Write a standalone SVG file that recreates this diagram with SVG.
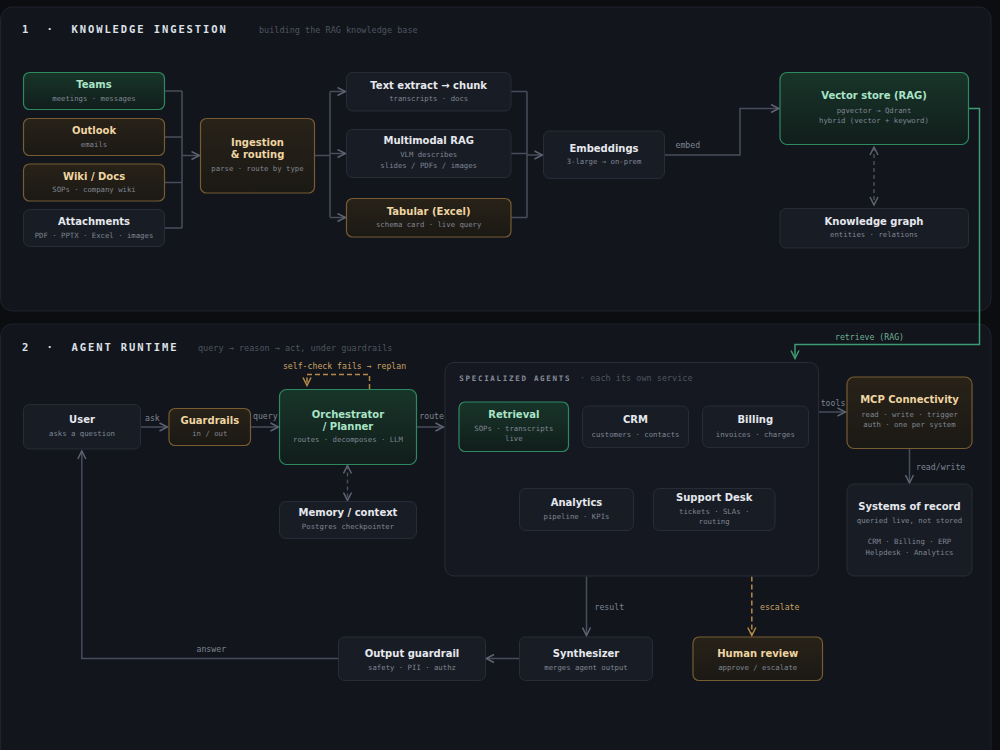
<svg xmlns="http://www.w3.org/2000/svg" width="1000" height="750" viewBox="0 0 1000 750">
<style>
.panel{fill:#12151c;stroke:#1f232c;stroke-width:1}
.nn{fill:#181c25;stroke:#272c37;stroke-width:1}
.ng{fill:url(#gG);stroke:#2d8a60;stroke-width:1.2}
.na{fill:url(#gA);stroke:#765c30;stroke-width:1.2}
.t{font-family:"DejaVu Sans","Liberation Sans",sans-serif;font-weight:bold;font-size:10px;text-anchor:middle}
.tn{fill:#e6e8ed}.tg{fill:#a9e4c7}.ta{fill:#efd5a2}
.s{font-family:"DejaVu Sans Mono","Liberation Mono",monospace;font-size:7.3px;fill:#7f8692;text-anchor:middle}
.h{font-family:"DejaVu Sans Mono","Liberation Mono",monospace;font-weight:bold;font-size:10.5px;fill:#dde1e8;letter-spacing:1.9px}
.hs{font-family:"DejaVu Sans Mono","Liberation Mono",monospace;font-size:8.5px;fill:#4e5460}
.lbl{font-family:"DejaVu Sans Mono","Liberation Mono",monospace;font-size:8.2px;fill:#7d8491}
.c{fill:none;stroke:#474d5b;stroke-width:1.5}
.cg{fill:none;stroke:#3f9a74;stroke-width:1.5}
.ca{fill:none;stroke:#b48a45;stroke-width:1.5;stroke-dasharray:5 3}
.cd{fill:none;stroke:#474d5b;stroke-width:1.5;stroke-dasharray:4 3}
</style>
<defs>
<linearGradient id="gG" x1="0" y1="0" x2="0" y2="1"><stop offset="0" stop-color="#183529"/><stop offset="1" stop-color="#111d1b"/></linearGradient>
<linearGradient id="gA" x1="0" y1="0" x2="0" y2="1"><stop offset="0" stop-color="#282218"/><stop offset="1" stop-color="#1b1915"/></linearGradient>
<marker id="ar" markerUnits="userSpaceOnUse" viewBox="0 0 10 10" refX="9" refY="5" markerWidth="10" markerHeight="10" orient="auto-start-reverse"><path d="M1,1 L9,5 L1,9" fill="none" stroke="#5d6473" stroke-width="1.5"/></marker>
<marker id="arg" markerUnits="userSpaceOnUse" viewBox="0 0 10 10" refX="9" refY="5" markerWidth="10" markerHeight="10" orient="auto"><path d="M1,1 L9,5 L1,9" fill="none" stroke="#3f9a74" stroke-width="1.5"/></marker>
<marker id="ara" markerUnits="userSpaceOnUse" viewBox="0 0 10 10" refX="9" refY="5" markerWidth="10" markerHeight="10" orient="auto"><path d="M1,1 L9,5 L1,9" fill="none" stroke="#b48a45" stroke-width="1.5"/></marker>
</defs>
<rect x="0" y="0" width="1000" height="750" fill="#0b0d11"/>
<rect class="panel" x="0.5" y="7" width="990.5" height="304" rx="12"/>
<rect class="panel" x="0.5" y="324" width="990.5" height="440" rx="12"/>

<g id="headers">
<text class="h" x="22" y="32.5">1</text><text class="h" x="46.6" y="32.5">·</text><text class="h" x="71.5" y="32.5">KNOWLEDGE INGESTION</text>
<text class="hs" x="259" y="32.5">building the RAG knowledge base</text>
<text class="h" x="22" y="350.5">2</text><text class="h" x="46.6" y="350.5">·</text><text class="h" x="71.5" y="350.5">AGENT RUNTIME</text>
<text class="hs" x="198" y="350.5">query → reason → act, under guardrails</text>
</g>

<g id="connectors">
<path class="c" d="M164,91 H182 M164,137 H182 M164,182.5 H182 M164,228 H182 M182,91 V228"/>
<path class="c" d="M182,155.5 H199.5" marker-end="url(#ar)"/>
<path class="c" d="M314,155.5 H330 M330,91.5 V217.5"/>
<path class="c" d="M330,91.5 H345.5" marker-end="url(#ar)"/>
<path class="c" d="M330,153.5 H345.5" marker-end="url(#ar)"/>
<path class="c" d="M330,217.5 H345.5" marker-end="url(#ar)"/>
<path class="c" d="M511,91.5 H527 M511,153.5 H527 M511,217.5 H527 M527,91.5 V217.5"/>
<path class="c" d="M527,155 H542.5" marker-end="url(#ar)"/>
<path class="c" d="M664,155 H740 V108.5 H779" marker-end="url(#ar)"/>
<text class="lbl" x="675.5" y="147.5">embed</text>
<path class="cd" d="M874,147 V205" marker-start="url(#ar)" marker-end="url(#ar)"/>
<path class="cg" d="M968,108.5 H979.5 V344.5 H795 V358.5" marker-end="url(#arg)"/>
<text class="lbl" x="835" y="339.5" style="fill:#6fae93">retrieve (RAG)</text>

<path class="c" d="M140,427 H167.5" marker-end="url(#ar)"/>
<text class="lbl" x="145" y="420.5">ask</text>
<path class="c" d="M251,427 H278.5" marker-end="url(#ar)"/>
<text class="lbl" x="253" y="419">query</text>
<path class="ca" d="M369.5,389 V374.5 H307 V385.5" marker-end="url(#ara)"/>
<text class="lbl" x="344.5" y="369" style="fill:#c9a263;text-anchor:middle">self-check fails → replan</text>
<path class="c" d="M417,427 H443.5" marker-end="url(#ar)"/>
<text class="lbl" x="419.3" y="419">route</text>
<path class="cd" d="M347.5,465.5 V500.5" marker-start="url(#ar)" marker-end="url(#ar)"/>
<path class="c" d="M818.5,412 H845.5" marker-end="url(#ar)"/>
<text class="lbl" x="820.7" y="405.5">tools</text>
<path class="c" d="M909.5,448.5 V483" marker-end="url(#ar)"/>
<text class="lbl" x="916" y="469.5">read/write</text>
<path class="c" d="M586.5,576.5 V635.5" marker-end="url(#ar)"/>
<text class="lbl" x="594.5" y="609.5">result</text>
<path class="ca" d="M751.8,576.5 V635.5" marker-end="url(#ara)"/>
<text class="lbl" x="760" y="609.5" style="fill:#c9a263">escalate</text>
<path class="c" d="M519,658.5 H486" marker-end="url(#ar)"/>
<path class="c" d="M338,658.5 H81.8 V451" marker-end="url(#ar)"/>
<text class="lbl" x="196.5" y="652">answer</text>
</g>

<g id="n-teams"><rect class="ng" x="23.5" y="72.5" width="141" height="37" rx="6"/><text class="t tg" x="94" y="88.3">Teams</text><text class="s" x="94" y="100.8">meetings · messages</text></g>
<g id="n-outlook"><rect class="na" x="23.5" y="118.5" width="141" height="37" rx="6"/><text class="t ta" x="94" y="134">Outlook</text><text class="s" x="94" y="146.5">emails</text></g>
<g id="n-wiki"><rect class="na" x="23.5" y="164" width="141" height="37" rx="6"/><text class="t ta" x="94" y="179.7">Wiki / Docs</text><text class="s" x="94" y="192.2">SOPs · company wiki</text></g>
<g id="n-attachments"><rect class="nn" x="23.5" y="209.5" width="141" height="37" rx="6"/><text class="t tn" x="94" y="225.3">Attachments</text><text class="s" x="94" y="237.6">PDF · PPTX · Excel · images</text></g>
<g id="n-ingestion"><rect class="na" x="200.5" y="118.5" width="114" height="74.5" rx="6"/><text class="t ta" x="257.5" y="146.3">Ingestion</text><text class="t ta" x="257.5" y="158.3">&amp; routing</text><text class="s" x="257.5" y="171">parse · route by type</text></g>
<g id="n-text"><rect class="nn" x="346.5" y="72.5" width="164.5" height="38.5" rx="6"/><text class="t tn" x="428.7" y="88.7">Text extract → chunk</text><text class="s" x="428.7" y="101.3">transcripts · docs</text></g>
<g id="n-multimodal"><rect class="nn" x="346.5" y="129.5" width="164.5" height="48" rx="6"/><text class="t tn" x="428.7" y="144.3">Multimodal RAG</text><text class="s" x="428.7" y="157.3">VLM describes</text><text class="s" x="428.7" y="168">slides / PDFs / images</text></g>
<g id="n-tabular"><rect class="na" x="346.5" y="198.5" width="164.5" height="38.5" rx="6"/><text class="t ta" x="428.7" y="214.7">Tabular (Excel)</text><text class="s" x="428.7" y="227.3">schema card · live query</text></g>
<g id="n-embeddings"><rect class="nn" x="543.5" y="131" width="121" height="47.5" rx="6"/><text class="t tn" x="604" y="151.7">Embeddings</text><text class="s" x="604" y="164.3">3-large → on-prem</text></g>
<g id="n-vector"><rect class="ng" x="780" y="72.5" width="188.5" height="72" rx="7"/><text class="t tg" x="874" y="99.3">Vector store (RAG)</text><text class="s" x="874" y="112.7">pgvector → Qdrant</text><text class="s" x="874" y="123.3">hybrid (vector + keyword)</text></g>
<g id="n-kg"><rect class="nn" x="780" y="208.5" width="188.5" height="39.5" rx="6"/><text class="t tn" x="874" y="224.7">Knowledge graph</text><text class="s" x="874" y="237.3">entities · relations</text></g>

<g id="n-user"><rect class="nn" x="23.5" y="404.5" width="117" height="44.5" rx="6"/><text class="t tn" x="82" y="423.3">User</text><text class="s" x="82" y="436.3">asks a question</text></g>
<g id="n-guardrails"><rect class="na" x="169" y="408.5" width="81.5" height="37" rx="6"/><text class="t ta" x="209.8" y="423.7">Guardrails</text><text class="s" x="209.8" y="436.3">in / out</text></g>
<g id="n-orchestrator"><rect class="ng" x="279.5" y="389.5" width="137" height="75" rx="7"/><text class="t tg" x="348" y="417.7">Orchestrator</text><text class="t tg" x="348" y="429.7">/ Planner</text><text class="s" x="348" y="442">routes · decomposes · LLM</text></g>
<g id="n-memory"><rect class="nn" x="279.5" y="501.5" width="137" height="37" rx="6"/><text class="t tn" x="348" y="516.3">Memory / context</text><text class="s" x="348" y="529.3">Postgres checkpointer</text></g>
<g id="g-agents">
<rect x="445" y="362.5" width="373.5" height="213.5" rx="9" fill="#151821" stroke="#272c37" stroke-width="1"/>
<text x="459.3" y="381" style="font-family:'DejaVu Sans Mono','Liberation Mono',monospace;font-weight:bold;font-size:7.5px;fill:#868d99;letter-spacing:1.7px">SPECIALIZED AGENTS</text>
<text class="hs" x="580" y="381">· each its own service</text>
</g>
<g id="n-retrieval"><rect class="ng" x="459" y="402" width="109.5" height="49.5" rx="6"/><text class="t tg" x="513.8" y="417.7">Retrieval</text><text class="s" x="513.8" y="431">SOPs · transcripts</text><text class="s" x="513.8" y="441.3">live</text></g>
<g id="n-crm"><rect class="nn" x="582.5" y="406" width="106" height="41.5" rx="6"/><text class="t tn" x="635.5" y="423.3">CRM</text><text class="s" x="635.5" y="436.7">customers · contacts</text></g>
<g id="n-billing"><rect class="nn" x="702.5" y="406" width="106" height="41.5" rx="6"/><text class="t tn" x="755.3" y="423.3">Billing</text><text class="s" x="755.3" y="436.7">invoices · charges</text></g>
<g id="n-analytics"><rect class="nn" x="519.5" y="488.5" width="114" height="42" rx="6"/><text class="t tn" x="576.5" y="506">Analytics</text><text class="s" x="576.5" y="519.3">pipeline · KPIs</text></g>
<g id="n-support"><rect class="nn" x="653.5" y="488.5" width="121.5" height="42" rx="6"/><text class="t tn" x="714.2" y="500.7">Support Desk</text><text class="s" x="714.2" y="513.7">tickets · SLAs ·</text><text class="s" x="714.2" y="524.3">routing</text></g>
<g id="n-mcp"><rect class="na" x="847" y="377" width="125" height="71.5" rx="7"/><text class="t ta" x="909.5" y="403.3">MCP Connectivity</text><text class="s" x="909.5" y="416.7">read · write · trigger</text><text class="s" x="909.5" y="427.3">auth · one per system</text></g>
<g id="n-systems"><rect class="nn" x="847" y="484" width="125" height="92" rx="7"/><text class="t tn" x="909.5" y="510">Systems of record</text><text class="s" x="909.5" y="523.3">queried live, not stored</text><text class="s" x="909.5" y="544.3">CRM · Billing · ERP</text><text class="s" x="909.5" y="555">Helpdesk · Analytics</text></g>
<g id="n-output"><rect class="nn" x="338.5" y="637" width="147" height="43.5" rx="6"/><text class="t tn" x="412" y="656.5">Output guardrail</text><text class="s" x="412" y="669.8">safety · PII · authz</text></g>
<g id="n-synth"><rect class="nn" x="519.5" y="637" width="133" height="43.5" rx="6"/><text class="t tn" x="586" y="656.5">Synthesizer</text><text class="s" x="586" y="669.8">merges agent output</text></g>
<g id="n-human"><rect class="na" x="693" y="637" width="129.5" height="43.5" rx="6"/><text class="t ta" x="757.7" y="656.5">Human review</text><text class="s" x="757.7" y="669.8">approve / escalate</text></g>
</svg>
